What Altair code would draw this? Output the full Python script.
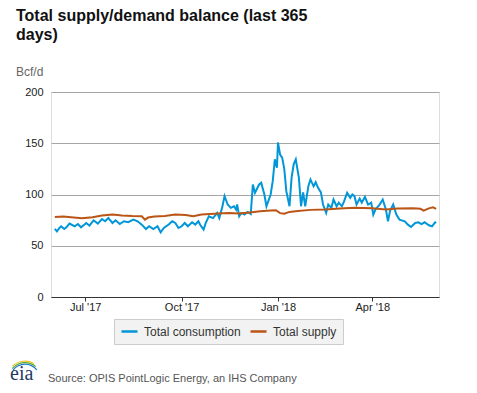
import altair as alt
import pandas as pd

cons_dates = ["2017-06-02","2017-06-04","2017-06-06","2017-06-08","2017-06-11","2017-06-13","2017-06-16","2017-06-19","2017-06-21","2017-06-24","2017-06-27","2017-06-30",
 "2017-07-02","2017-07-05","2017-07-09","2017-07-13","2017-07-17","2017-07-20","2017-07-23","2017-07-27","2017-07-30","2017-08-03","2017-08-07","2017-08-11",
 "2017-08-16","2017-08-20","2017-08-24","2017-08-28","2017-08-31","2017-09-04","2017-09-08","2017-09-11","2017-09-14","2017-09-19","2017-09-22","2017-09-25",
 "2017-09-28","2017-10-01","2017-10-04","2017-10-07","2017-10-11","2017-10-14","2017-10-17","2017-10-19","2017-10-22","2017-10-24","2017-10-27","2017-10-31",
 "2017-11-04","2017-11-06","2017-11-09","2017-11-11","2017-11-14","2017-11-17","2017-11-20","2017-11-22","2017-11-23","2017-11-25","2017-11-27","2017-11-30",
 "2017-12-03","2017-12-06","2017-12-08","2017-12-10","2017-12-14","2017-12-16","2017-12-19","2017-12-21","2017-12-25","2017-12-27","2017-12-29","2017-12-31",
 "2018-01-01","2018-01-03","2018-01-05","2018-01-07","2018-01-09","2018-01-12","2018-01-14","2018-01-16","2018-01-18","2018-01-21","2018-01-23","2018-01-25",
 "2018-01-27","2018-01-30","2018-02-01","2018-02-04","2018-02-06","2018-02-08","2018-02-11","2018-02-13","2018-02-16","2018-02-18","2018-02-21","2018-02-23",
 "2018-02-26","2018-02-28","2018-03-03","2018-03-05","2018-03-08","2018-03-11","2018-03-13","2018-03-15","2018-03-17","2018-03-20","2018-03-22","2018-03-25",
 "2018-03-28","2018-03-31","2018-04-02","2018-04-04","2018-04-08","2018-04-11","2018-04-14","2018-04-16","2018-04-18","2018-04-21","2018-04-24","2018-04-27",
 "2018-05-02","2018-05-05","2018-05-08","2018-05-12","2018-05-15","2018-05-18","2018-05-21","2018-05-25","2018-05-28","2018-05-31","2018-06-01"]
cons_values = [66.5,64.0,67.0,69.0,66.3,68.0,71.6,70.0,69.0,71.2,68.0,70.5,
 72.2,69.6,74.8,71.6,76.1,73.9,77.1,72.2,74.8,71.2,73.9,73.0,
 75.5,73.9,70.6,66.3,69.0,66.3,69.0,63.0,67.3,71.0,73.9,72.2,
 67.3,69.0,72.2,69.0,72.9,70.6,73.9,70.0,65.7,72.0,78.7,77.0,
 82.0,77.0,88.5,98.4,90.2,87.0,88.5,85.3,90.2,78.7,82.0,80.5,
 83.0,81.0,109.8,101.6,109.8,111.4,100.0,88.5,100.0,113.0,134.3,126.1,
 150.7,139.0,136.0,125.0,103.0,88.5,116.4,129.4,134.3,116.0,88.5,102.0,
 88.5,108.1,114.7,108.0,112.0,107.0,102.0,90.2,82.0,90.2,87.0,95.1,
 88.5,92.0,88.5,93.0,101.6,96.7,100.0,98.4,90.2,96.0,92.0,97.7,
 90.2,92.0,80.4,85.3,90.2,95.1,85.3,73.9,84.0,90.2,80.4,75.5,
 73.9,70.6,68.3,72.2,72.9,71.2,72.9,70.0,69.0,72.9,72.2]

supply_dates = ["2017-06-02","2017-06-10","2017-06-20","2017-06-28","2017-07-08","2017-07-17","2017-07-27","2017-08-05","2017-08-15","2017-08-24","2017-08-27",
 "2017-08-30","2017-09-05","2017-09-15","2017-09-25","2017-10-05","2017-10-12","2017-10-20","2017-10-28","2017-11-05","2017-11-15","2017-11-25",
 "2017-12-05","2017-12-15","2017-12-25","2017-12-30","2018-01-03","2018-01-07","2018-01-12","2018-01-20","2018-02-01","2018-02-15","2018-03-01",
 "2018-03-15","2018-04-01","2018-04-14","2018-04-25","2018-05-10","2018-05-17","2018-05-20","2018-05-25","2018-05-29","2018-06-01"]
supply_values = [78.0,78.6,77.5,76.8,77.8,79.4,80.4,79.5,79.0,78.8,75.5,
 77.5,78.6,79.0,80.4,80.0,78.8,80.5,81.0,81.4,82.0,81.4,
 82.5,83.7,84.3,84.6,81.8,81.2,83.0,84.0,85.0,85.3,86.3,
 87.0,86.5,85.3,86.3,86.5,86.0,84.3,86.5,87.5,86.0]

series_names = ["Total consumption", "Total supply"]
series_colors = ["#0096d7", "#bb5515"]
y_ticks = [0, 50, 100, 150, 200]

df = pd.concat([
    pd.DataFrame({"date": cons_dates, "value": cons_values, "series": series_names[0], "order": 0}),
    pd.DataFrame({"date": supply_dates, "value": supply_values, "series": series_names[1], "order": 1}),
], ignore_index=True)
one = pd.DataFrame({"k": [0]})

FONT = "Liberation Sans"
W, H = 388, 205

x_enc = alt.X("date:T",
    scale=alt.Scale(type="utc", domain=[alt.DateTime(year=2017, month=5, date=29, hours=8, utc=True),
                                        alt.DateTime(year=2018, month=6, date=3, hours=17, utc=True)]),
    axis=alt.Axis(title=None, grid=False, values=[
        alt.DateTime(year=2017, month=7, date=1, utc=True),
        alt.DateTime(year=2017, month=10, date=1, utc=True),
        alt.DateTime(year=2018, month=1, date=1, utc=True),
        alt.DateTime(year=2018, month=4, date=1, utc=True)],
        labelExpr="utcFormat(datum.value, \"%b '%y\")",
        domainColor="#333333", tickColor="#333333", tickSize=4, labelPadding=0,
        labelFont=FONT, labelFontSize=11, labelColor="#222222"))
y_enc = alt.Y("value:Q", scale=alt.Scale(domain=[0, 200]),
    axis=alt.Axis(title=None, values=y_ticks, domain=False, ticks=False, labelPadding=8,
        gridColor="#a6a6a6", gridWidth=1, labelFont=FONT, labelFontSize=11, labelColor="#222222"))

lines = alt.Chart(df).mark_line(strokeWidth=2, interpolate="linear").encode(
    x=x_enc, y=y_enc,
    color=alt.Color("series:N", scale=alt.Scale(domain=series_names, range=series_colors),
        legend=alt.Legend(title=None, orient="none", legendX=63, legendY=227, direction="horizontal",
            fillColor="#f2f2f2", strokeColor="#cccccc", padding=6, symbolType="stroke",
            symbolSize=256, symbolStrokeWidth=2.5, clipHeight=13, labelFont=FONT, labelFontSize=12,
            labelColor="#333333", labelOffset=5, columnPadding=8)),
    order=alt.Order("order:Q"),
)

def txt(text, x, y, size, color, bold=False, font=FONT):
    return alt.Chart(one).mark_text(align="left", baseline="alphabetic", font=font, fontSize=size,
        fontWeight="bold" if bold else "normal", color=color).encode(
        x=alt.value(x), y=alt.value(y), text=alt.value(text))

title1 = txt("Total supply/demand balance (last 365", -35, -71, 16, "#111111", True)
title2 = txt("days)", -35, -52, 16, "#111111", True)
unit = txt("Bcf/d", -35, -16, 12, "#666666")
source = txt("Source: OPIS PointLogic Energy, an IHS Company", -3, 290, 11, "#555555")
logo = txt("eia", -41, 288, 20, "#1f3a68", font="Liberation Serif")

def arc(r1, r2, t1, t2, color):
    return alt.Chart(one).mark_arc(radius=r1, radius2=r2, theta=t1, theta2=t2, color=color).encode(
        x=alt.value(-26), y=alt.value(287))

arcs = arc(15.5, 14.3, 5.35, 7.2, "#1e78c8") + arc(17.0, 15.8, 5.4, 7.0, "#5aab3c") + arc(18.4, 17.3, 5.5, 6.8, "#f2c21b")

chart = alt.layer(lines, title1, title2, unit, source, arcs, logo).properties(
    width=W, height=H,
    autosize=alt.AutoSizeParams(type="none"),
    padding={"left": 43, "top": 84, "right": 30, "bottom": 88},
).configure_view(stroke=None).configure(background="white")

chart.save("out.html", embed_options={"renderer": "svg", "actions": False})
